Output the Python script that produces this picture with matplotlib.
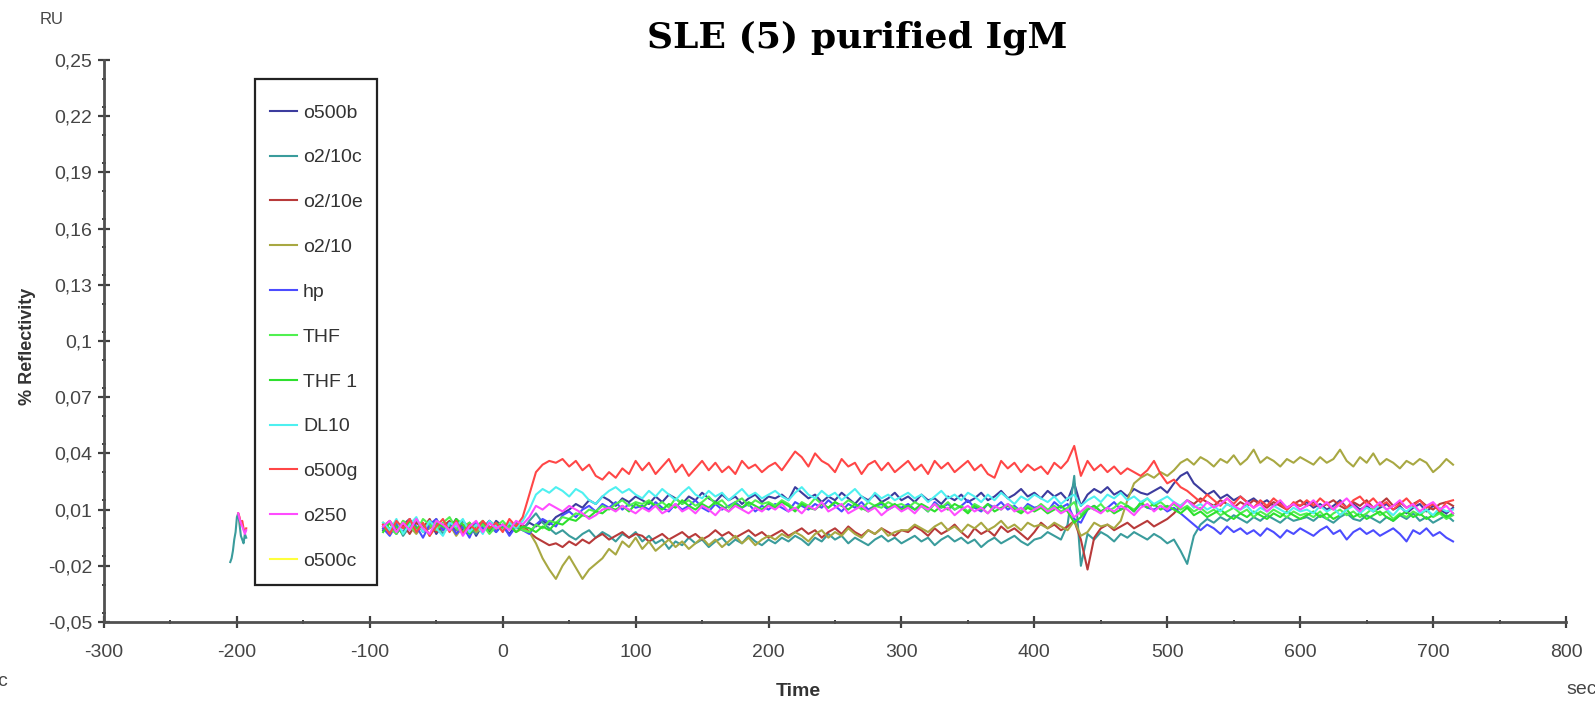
import numpy as np
import matplotlib
matplotlib.use("Agg")
import matplotlib.pyplot as plt
from matplotlib.patches import Rectangle
from matplotlib.ticker import MultipleLocator, FixedLocator

plt.rcParams['font.family'] = ['Liberation Sans', 'DejaVu Sans']
plt.rcParams['axes.unicode_minus'] = False

# sensorgram values, in units of 0.001 RU, sampled every 5 s from -90 s
t_start = -90
t_step = 5

o500b = [-1, 3, -3, 2, 5, -2, 1, 4, -3, 2, 0, 5, -1, 3, -4, 2, -2, 4, 1, -3, 2, 0,
         3, 1, 4, 2, 6, 8, 10, 13, 11, 15, 13, 17, 15, 12, 16, 14, 17,
         15, 13, 17, 14, 18, 16, 13, 17, 15, 19, 16, 14, 18, 15, 17, 13, 16, 18, 14, 17,
         16, 18, 15, 22, 19, 16, 18, 14, 17, 15, 19, 16, 13, 17, 15, 18, 14, 16, 19, 15,
         17, 14, 18, 15, 16, 13, 17, 15, 18, 14, 16, 19, 15, 17, 20, 16, 18, 21, 17, 19,
         16, 20, 17, 19, 15, 24, 12, 18, 21, 19, 22, 18, 20, 17, 21, 19, 18, 20, 22, 19,
         24, 28, 30, 24, 21, 18, 20, 16, 18, 15, 17, 14, 16, 13, 15, 12, 14, 11, 13, 12,
         14, 11, 13, 10, 12, 15, 11, 13, 10, 12, 9, 11, 13, 10, 12, 8, 11, 13, 9, 12, 10, 8, 11]

o2_10c = [2, -2, 3, -4, 1, 4, -2, 0, 3, -3, 2, -1, 4, 0, -3, 3, 1, -2, 2, 0, 3, -1,
          4, 8, 3, 0, -3, -1, -4, -6, -3, -1, -5, -2, -4, -7, -3, -5, -2,
          -7, -4, -8, -6, -11, -7, -9, -5, -8, -6, -10, -7, -5, -9, -6, -8, -4, -7, -9, -6,
          -8, -5, -7, -4, -6, -9, -5, -7, -3, -6, -4, -8, -5, -7, -9, -6, -4, -7, -5, -8,
          -6, -4, -7, -5, -9, -6, -4, -7, -5, -8, -6, -10, -7, -5, -8, -6, -4, -7, -9, -6,
          -5, -2, -4, -6, 2, 28, -20, -3, -6, -2, -4, -7, -3, -5, -2, -4, -6, -3, -5, -8,
          -6, -12, -19, -4, 2, 5, 3, 6, 4, 7, 5, 3, 6, 4, 7, 5, 3, 6, 4, 5,
          6, 4, 7, 5, 3, 6, 8, 5, 4, 7, 5, 3, 6, 4, 7, 5, 8, 4, 6, 3, 5, 7, 4]

o2_10e = [1, 4, -1, 2, -3, 3, 0, 5, -2, 1, 4, -3, 2, 0, 3, -2, 4, 1, -1, 3, 0, 2,
          -2, -5, -7, -9, -8, -10, -7, -9, -6, -8, -5, -3, -6, -4, -2, -5, -3,
          -4, -7, -5, -3, -6, -4, -2, -5, -3, -6, -4, -1, -4, -2, -5, -3, -1, -4, -2, -5,
          -3, -1, -4, -2, 0, -3, -1, -5, -2, 0, -3, 1, -2, -4, -1, -3, 0, -2, -4, -1,
          -2, 1, -1, -4, 0, -3, -1, 2, -2, -5, 0, -3, -1, -4, 1, -2, 0, -3, -6, -2,
          3, 0, 2, -1, 1, 4, -6, -22, -5, 0, 2, -1, 1, 3, 0, 2, 4, 1, 3, 5,
          8, 12, 15, 13, 16, 14, 12, 15, 13, 11, 14, 12, 15, 13, 11, 14, 12, 10, 13, 15,
          12, 14, 11, 13, 15, 12, 10, 14, 12, 15, 11, 13, 16, 12, 14, 11, 13, 15, 12, 10, 13, 14, 12]

o2_10 = [0, 3, -2, 4, 1, -3, 2, 0, 5, -1, 2, -4, 1, 3, -2, 0, 4, -1, 2, 1, -2, 0,
         -2, -8, -16, -22, -27, -20, -15, -21, -27, -22, -19, -16, -11, -14, -7, -10, -5,
         -11, -7, -12, -9, -6, -10, -7, -11, -8, -5, -9, -6, -10, -7, -4, -8, -5, -9, -6, -4,
         -6, -3, -5, -2, -4, -7, -3, -1, -5, -2, -4, 0, -3, -5, -1, -3, 0, -4, -2, -1,
         -1, 2, 0, -2, 1, 3, -1, 1, -2, 2, 0, 3, -1, 1, 4, 0, 2, -1, 3, 1,
         2, 0, 3, 1, -1, 4, -4, -2, 3, 1, 2, 0, 4, 15, 24, 27, 29, 27, 30, 28,
         31, 35, 37, 34, 38, 36, 33, 37, 35, 39, 34, 37, 42, 35, 38, 36, 33, 37, 35, 38,
         36, 34, 38, 35, 37, 42, 36, 33, 38, 35, 40, 34, 37, 35, 32, 36, 34, 37, 35, 30, 33, 37, 34]

hp = [0, -4, 2, -2, 4, 1, -5, 2, 5, -1, 3, -3, 1, -5, 3, 0, 4, -2, 2, -4, 1, -1,
      -3, 2, 5, 3, 1, 7, 9, 6, 10, 12, 9, 13, 11, 14, 10, 13, 11,
      12, 10, 14, 11, 9, 13, 10, 12, 15, 11, 9, 13, 10, 12, 14, 11, 13, 9, 12, 10,
      13, 11, 9, 14, 12, 10, 13, 11, 15, 12, 9, 13, 11, 14, 10, 12, 13, 10, 12, 11,
      13, 10, 12, 9, 14, 11, 13, 10, 12, 15, 11, 9, 13, 11, 14, 10, 12, 9, 13, 11,
      12, 9, 14, 11, 13, 5, 3, 10, 12, 9, 11, 14, 10, 12, 9, 13, 11, 10, 12, 9,
      11, 8, 5, 2, -1, 2, 0, -3, 1, -2, 0, -3, -1, -4, 0, -2, -5, -1, -3, 0,
      -2, -4, -1, 1, -3, -1, -6, -2, 0, -3, -1, -4, -2, 0, -3, -7, -1, -3, 0, -4, -2, -5, -7]

thf = [3, 0, -3, 4, 1, -2, 5, 2, -1, 3, 6, 0, -2, 3, -1, 2, -3, 1, 4, 0, 2, -1,
       -2, 2, 0, 4, 3, 6, 5, 8, 7, 10, 9, 12, 10, 13, 15, 12, 14,
       13, 15, 12, 14, 11, 16, 13, 15, 12, 14, 17, 13, 15, 11, 14, 16, 12, 15, 13, 14,
       12, 15, 13, 10, 14, 12, 16, 13, 11, 14, 12, 15, 13, 10, 14, 12, 11, 14, 12, 13,
       11, 14, 12, 9, 13, 11, 14, 10, 12, 9, 13, 11, 8, 12, 10, 13, 11, 9, 12, 10,
       13, 10, 12, 9, 11, 14, 7, 12, 10, 13, 9, 11, 14, 12, 10, 13, 16, 12, 14, 11,
       13, 10, 12, 9, 11, 8, 10, 7, 9, 11, 8, 10, 6, 9, 7, 10, 8, 6, 9, 7,
       8, 6, 9, 5, 8, 10, 7, 9, 6, 8, 11, 7, 9, 5, 8, 6, 9, 7, 10, 6, 8, 5, 7]

thf_1 = [-2, 3, 1, -3, 4, 0, 2, -4, 3, 1, -1, 5, 2, -3, 1, 4, -1, 3, 0, 2, -2, 1,
         0, -2, 1, -1, 3, 2, 5, 4, 7, 6, 9, 8, 11, 10, 12, 9, 13,
         11, 14, 12, 10, 13, 11, 15, 12, 10, 13, 11, 14, 12, 9, 13, 11, 14, 12, 10, 13,
         11, 14, 12, 9, 13, 11, 10, 13, 11, 14, 12, 10, 13, 11, 9, 12, 14, 11, 13, 10,
         12, 10, 13, 11, 9, 12, 10, 13, 11, 8, 12, 10, 13, 9, 11, 12, 10, 8, 11, 9,
         11, 8, 10, 12, 9, 3, 6, 10, 12, 9, 11, 8, 10, 12, 9, 14, 11, 13, 10, 12,
         10, 8, 11, 7, 9, 6, 8, 10, 7, 5, 8, 6, 9, 7, 5, 8, 6, 9, 7, 5,
         7, 9, 6, 8, 5, 7, 10, 6, 8, 5, 7, 9, 6, 4, 7, 9, 6, 8, 5, 7, 9, 6, 8]

dl10 = [3, -1, 5, -3, 2, 6, -2, 4, 0, -4, 3, 1, 5, -2, 2, -3, 4, 1, -1, 3, 0, 4,
        10, 18, 21, 19, 22, 20, 17, 21, 19, 15, 13, 17, 20, 22, 19, 21, 18,
        16, 20, 17, 21, 18, 15, 19, 22, 18, 16, 20, 17, 19, 15, 18, 21, 17, 19, 16, 18,
        20, 17, 15, 19, 22, 18, 16, 20, 17, 19, 15, 18, 21, 17, 14, 19, 16, 18, 15, 17,
        19, 16, 18, 14, 17, 20, 16, 18, 15, 19, 17, 14, 18, 15, 19, 16, 13, 17, 15, 18,
        16, 14, 17, 13, 16, 18, 12, 15, 17, 14, 18, 16, 19, 15, 17, 14, 16, 13, 15, 17,
        14, 12, 15, 11, 13, 10, 12, 9, 13, 11, 10, 12, 8, 11, 9, 12, 10, 8, 11, 9,
        10, 8, 12, 9, 11, 7, 10, 12, 8, 11, 9, 13, 10, 7, 11, 9, 12, 8, 10, 7, 11, 9, 10]

o500g = [2, -3, 4, 0, 5, -2, 3, -4, 1, 5, -2, 4, -3, 2, -1, 4, 0, 3, -2, 5, 1, 6,
         18, 30, 34, 36, 35, 37, 33, 36, 31, 34, 28, 26, 30, 27, 32, 29, 36,
         31, 35, 29, 33, 37, 30, 34, 28, 32, 36, 31, 35, 30, 33, 29, 36, 32, 34, 30, 33,
         35, 31, 36, 41, 38, 33, 40, 36, 34, 30, 37, 33, 35, 29, 34, 36, 31, 35, 30, 33,
         36, 31, 34, 29, 36, 32, 35, 30, 33, 36, 31, 34, 29, 27, 36, 32, 35, 30, 34, 31,
         33, 29, 35, 32, 36, 44, 28, 36, 31, 34, 30, 33, 29, 32, 30, 28, 31, 36, 29, 24,
         26, 22, 20, 17, 14, 18, 15, 12, 16, 13, 17, 14, 11, 15, 12, 16, 13, 10, 14, 12,
         15, 12, 16, 13, 10, 14, 11, 15, 17, 13, 16, 12, 14, 10, 13, 16, 12, 15, 11, 13, 9, 14, 15]

o250 = [1, 4, -2, 3, -1, 5, 0, -3, 4, 2, -1, 3, -4, 1, 4, -2, 3, 0, 2, -1, 4, 2,
        6, 12, 10, 13, 11, 9, 12, 10, 8, 5, 7, 10, 11, 9, 12, 10, 8,
        11, 9, 12, 8, 10, 13, 9, 11, 8, 12, 10, 7, 11, 9, 12, 10, 8, 11, 9, 12,
        10, 13, 9, 11, 8, 12, 10, 14, 9, 11, 13, 8, 10, 12, 9, 11, 7, 10, 12, 9,
        11, 8, 12, 10, 13, 9, 11, 7, 10, 12, 9, 11, 8, 12, 10, 13, 9, 11, 8, 10,
        12, 9, 11, 8, 10, 6, 9, 12, 10, 8, 11, 9, 12, 10, 7, 11, 13, 9, 12, 10,
        14, 11, 15, 12, 10, 14, 11, 13, 16, 12, 10, 14, 11, 13, 9, 12, 15, 11, 13, 10,
        12, 15, 11, 14, 10, 13, 16, 12, 9, 13, 11, 14, 10, 12, 15, 11, 13, 9, 12, 14, 10, 12, 8]

o500c = []

# short early injection, 1 s steps from -205 s
blip_start = -205
blip_o2_10c = [-18, -16, -12, -6, -2, 6, 8, 2, -4, -6, -8, -3, -5]
blip_o500g = [None] * 6 + [8, 6, 2, 4, 0, -2, 0]
blip_o250 = [None] * 6 + [8, 5, 3, 1, -1, -3, -1]

names = ['o500b', 'o2/10c', 'o2/10e', 'o2/10', 'hp', 'THF', 'THF 1',
         'DL10', 'o500g', 'o250', 'o500c']
series = [o500b, o2_10c, o2_10e, o2_10, hp, thf, thf_1, dl10, o500g, o250, o500c]
colors = ['#3c3c9e', '#3a9c9c', '#b83a3a', '#a8a842', '#4c4cff', '#50f050',
          '#2ee02e', '#4ef0f0', '#ff4646', '#ff4cff', '#ffff3c']

y_ticks = [-0.05, -0.02, 0.01, 0.04, 0.07, 0.1, 0.13, 0.16, 0.19, 0.22, 0.25]
y_labels = ['-0,05', '-0,02', '0,01', '0,04', '0,07', '0,1', '0,13', '0,16',
            '0,19', '0,22', '0,25']
x_ticks = [-300, -200, -100, 0, 100, 200, 300, 400, 500, 600, 700, 800]

W, H = 1595, 703
fig = plt.figure(figsize=(W / 100, H / 100), dpi=100)
ax = fig.add_axes([104 / W, 1 - 622 / H, (1566 - 104) / W, (622 - 60) / H])

lines = []
for name, vals, col in zip(names, series, colors):
    v = np.array(vals, dtype=float) / 1000
    t = t_start + t_step * np.arange(len(v))
    ln, = ax.plot(t, v, color=col, lw=1.5, label=name)
    lines.append(ln)

blips = {'o2/10c': blip_o2_10c, 'o500g': blip_o500g, 'o250': blip_o250}
for name, vals in blips.items():
    v = np.array([np.nan if x is None else x for x in vals], dtype=float) / 1000
    t = blip_start + np.arange(len(v))
    ax.plot(t, v, color=colors[names.index(name)], lw=1.5)

ax.set_xlim(-300, 800)
ax.set_ylim(-0.05, 0.25)
for s in ['top', 'right']:
    ax.spines[s].set_visible(False)
for s in ['left', 'bottom']:
    ax.spines[s].set_color('#505050')
    ax.spines[s].set_linewidth(2)

ax.xaxis.set_major_locator(FixedLocator(x_ticks))
ax.xaxis.set_minor_locator(MultipleLocator(50))
ax.yaxis.set_major_locator(FixedLocator(y_ticks))
ax.yaxis.set_minor_locator(MultipleLocator(0.015))
ax.set_yticklabels(y_labels)
ax.tick_params(which='major', direction='inout', length=9, width=1.6,
               color='#404040', labelsize=14, labelcolor='#454545')
ax.tick_params(which='minor', direction='inout', length=3, width=1.4,
               color='#404040')
ax.tick_params(axis='x', which='major', pad=11)
ax.tick_params(axis='y', which='major', pad=4)

# legend box drawn on its own so its size matches the original
fig.patches.append(Rectangle((255 / W, 1 - 585 / H), 122 / W, 506 / H,
                             transform=fig.transFigure, fill=True,
                             facecolor='white', edgecolor='#222222',
                             linewidth=1.6, zorder=5))
leg = fig.legend(handles=lines, loc='upper left',
                 bbox_to_anchor=(270 / W, 1 - 104 / H), frameon=False,
                 fontsize=14, labelspacing=1.40, handlelength=1.4,
                 handletextpad=0.3, borderpad=0, borderaxespad=0,
                 labelcolor='#333333')
leg.set_zorder(6)

fig.text(857 / W, 1 - 38 / H, 'SLE (5) purified IgM', ha='center', va='center',
         fontsize=26, fontweight='bold', family='DejaVu Serif')
fig.text(52 / W, 1 - 20 / H, 'RU', ha='center', va='center', fontsize=12,
         color='#454545')
fig.text(28 / W, 1 - 346 / H, '% Reflectivity', rotation=90, ha='center',
         va='center', fontsize=13, fontweight='bold', color='#333333')
fig.text(798 / W, 1 - 692 / H, 'Time', ha='center', va='center', fontsize=14,
         fontweight='bold', color='#333333')
fig.text(1566 / W, 1 - 690 / H, 'sec', ha='left', va='center', fontsize=14,
         color='#454545')
fig.text(-3 / W, 1 - 682 / H, 'c', ha='left', va='center', fontsize=14,
         color='#454545')

fig.savefig('out.png', dpi=100)
